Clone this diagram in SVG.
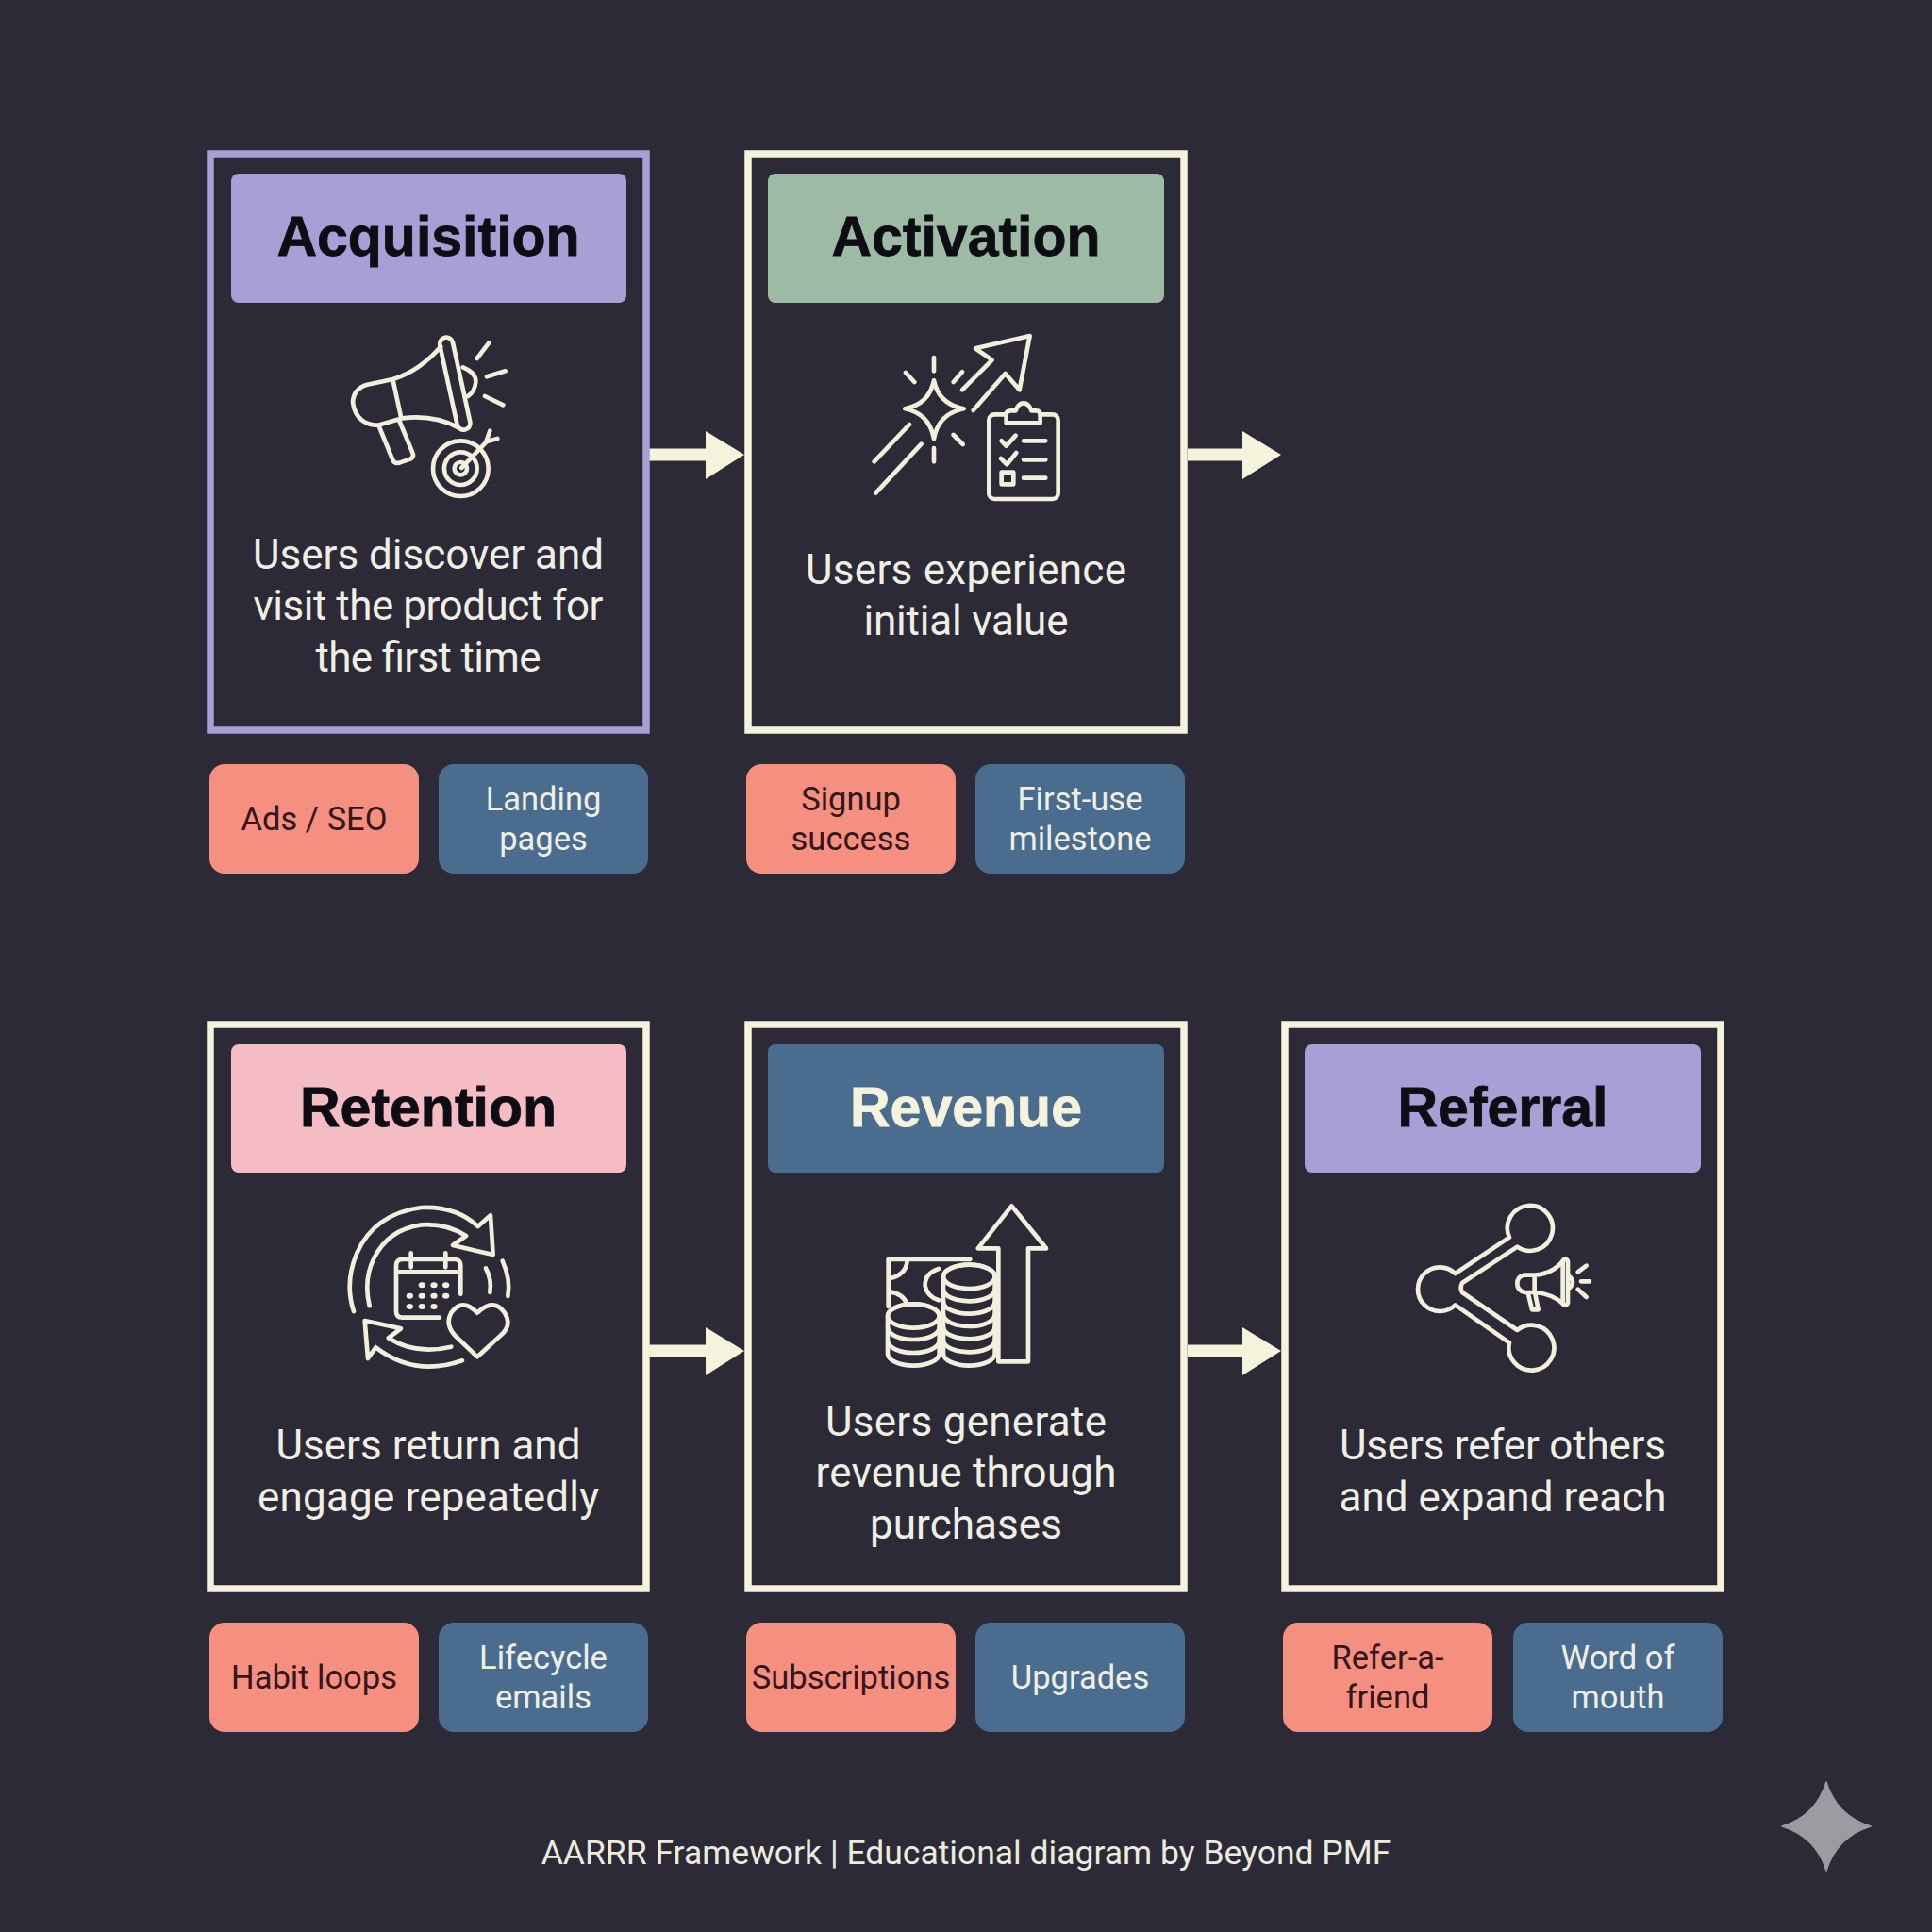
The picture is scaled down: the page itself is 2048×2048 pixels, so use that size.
<svg xmlns="http://www.w3.org/2000/svg" width="2048" height="2048" viewBox="0 0 2048 2048">
<style>
.card{fill:#2b2a36;stroke:#f5f3dc;stroke-width:7.5}
.hd{stroke:none}
.title{font:bold 59px "Liberation Sans",Arial,sans-serif;text-anchor:middle;fill:#0e0d14;stroke:#0e0d14;stroke-width:.8}
.body{font:44px Roboto,"Liberation Sans",sans-serif;text-anchor:middle;fill:#f0efe4}
.tag{font:34.5px Roboto,"Liberation Sans",sans-serif;text-anchor:middle}
.c{fill:#f58f7f}.c2{fill:#4a6d8f}
.dk{fill:#33161b}.lt{fill:#f0efe4}
.ic{fill:none;stroke:#f2f0dc;stroke-width:14;stroke-linecap:round;stroke-linejoin:round}
.ic .b{fill:#2b2a36}
.ic .d{fill:#f2f0dc;stroke:none}
.foot{font:35.5px Roboto,"Liberation Sans",sans-serif;text-anchor:middle;fill:#ecebdf}
</style>
<rect width="2048" height="2048" fill="#2b2a36"/>

<g id="connectors" fill="#f5f3dc">
<path d="M688 475.500H748V457L789 482L748 508V488.500H688Z"/>
<path d="M1259 475.500H1317V457L1358 482L1317 508V488.500H1259Z"/>
<path d="M688 1425.500H748V1407L789 1432L748 1458V1438.500H688Z"/>
<path d="M1259 1425.500H1317V1407L1358 1432L1317 1458V1438.500H1259Z"/>
</g>

<g id="acquisition">
<rect class="card" x="223" y="163" width="462" height="611" style="stroke:#a89fd6"/>
<rect class="hd" x="245" y="184" width="419" height="137" rx="8" fill="#a89fd6"/>
<text class="title" x="454" y="271">Acquisition</text>
<g class="ic" transform="translate(360 340) scale(.3333)">
<path d="M322 82Q255 160 170 186L88 203Q45 215 42 258Q48 310 90 327Q110 335 130 330L200 310Q300 298 378 340"/>
<path d="M170 190L196 310"/>
<rect x="-21" y="-150" width="42" height="300" rx="21" transform="translate(367 200) rotate(-12.3)"/>
<path d="M392 148Q435 165 433 195Q430 225 408 240"/>
<path d="M125 335L170 445Q175 455 190 452L225 440Q238 432 232 420L190 318"/>
<path d="M437 120L475 70M468 178L527 160M462 240L520 268"/>
<circle cx="385" cy="470" r="88"/><circle cx="385" cy="470" r="52"/><circle cx="385" cy="470" r="20"/>
<path d="M388 468L470 382M478 350L466 385L502 375"/>
</g>
<text class="body" x="454" y="603" textLength="372">Users discover and</text>
<text class="body" x="454" y="657" textLength="371">visit the product for</text>
<text class="body" x="454" y="712" textLength="239">the first time</text>
<rect class="c" x="222" y="810" width="222" height="116" rx="16"/>
<text class="tag dk" x="333" y="880">Ads / SEO</text>
<rect class="c2" x="465" y="810" width="222" height="116" rx="16"/>
<text class="tag lt" x="576" y="859">Landing</text>
<text class="tag lt" x="576" y="901">pages</text>
</g>

<g id="activation">
<rect class="card" x="793" y="163" width="462" height="611"/>
<rect class="hd" x="814" y="184" width="420" height="137" rx="8" fill="#9dbba4"/>
<text class="title" x="1024" y="271">Activation</text>
<g class="ic" transform="translate(880 330) scale(.3333)">
<path d="M420 250L515 155L462 118L635 78L602 250L557 198L455 315"/>
<path d="M330 220Q345 295 425 310Q345 325 330 405Q315 325 238 310Q315 295 330 220Z"/>
<path d="M330 147V190M240 195L268 225M392 225L420 193M392 393L422 423M330 435V478M140 478L252 360M145 578L290 422"/>
<rect x="505" y="328" width="220" height="269" rx="18"/>
<path class="b" d="M560 355V328Q560 316 575 316H590Q598 292 615 292Q632 292 640 316H655Q668 316 668 330V355Z"/>
<path d="M545 412L560 428L590 395M543 468L562 487L592 450M615 412H685M615 472H685M615 530H685"/>
<rect x="545" y="512" width="38" height="38"/>
</g>
<text class="body" x="1024" y="619" textLength="340">Users experience</text>
<text class="body" x="1024" y="673" textLength="217">initial value</text>
<rect class="c" x="791" y="810" width="222" height="116" rx="16"/>
<text class="tag dk" x="902" y="859">Signup</text>
<text class="tag dk" x="902" y="901">success</text>
<rect class="c2" x="1034" y="810" width="222" height="116" rx="16"/>
<text class="tag lt" x="1145" y="859">First-use</text>
<text class="tag lt" x="1145" y="901">milestone</text>
</g>

<g id="retention">
<rect class="card" x="223" y="1086" width="462" height="598"/>
<rect class="hd" x="245" y="1107" width="419" height="136" rx="8" fill="#f6bcc3"/>
<text class="title" x="454" y="1194">Retention</text>
<g class="ic" transform="translate(340 1250) scale(.3333)">
<path d="M105 420Q75 330 115 235Q170 110 320 90Q430 85 500 150L540 115L548 240L420 210L462 180Q400 140 320 145Q215 160 170 250Q135 320 155 403"/>
<path d="M175 535L150 570L140 450L255 475L215 505Q300 560 415 533M175 535Q300 630 450 577"/>
<path d="M525 283Q545 320 538 360M578 260Q605 320 595 372"/>
<path d="M378 440H260Q240 440 240 420V275Q240 255 260 255H425Q445 255 445 275V365M240 295H445M287 235V280M397 235V280"/>
<g class="d">
<ellipse cx="322" cy="337" rx="11" ry="9"/><ellipse cx="360" cy="337" rx="11" ry="9"/><ellipse cx="398" cy="337" rx="11" ry="9"/>
<ellipse cx="283" cy="371" rx="11" ry="9"/><ellipse cx="322" cy="371" rx="11" ry="9"/><ellipse cx="360" cy="371" rx="11" ry="9"/><ellipse cx="398" cy="371" rx="11" ry="9"/>
<ellipse cx="283" cy="405" rx="11" ry="9"/><ellipse cx="322" cy="405" rx="11" ry="9"/><ellipse cx="360" cy="405" rx="11" ry="9"/>
</g>
<path class="b" d="M498 565L425 495Q395 460 415 425Q450 375 498 425Q550 375 585 425Q610 465 572 497Z"/>
</g>
<text class="body" x="454" y="1547" textLength="323">Users return and</text>
<text class="body" x="454" y="1602" textLength="362">engage repeatedly</text>
<rect class="c" x="222" y="1720" width="222" height="116" rx="16"/>
<text class="tag dk" x="333" y="1790">Habit loops</text>
<rect class="c2" x="465" y="1720" width="222" height="116" rx="16"/>
<text class="tag lt" x="576" y="1769">Lifecycle</text>
<text class="tag lt" x="576" y="1811">emails</text>
</g>

<g id="revenue">
<rect class="card" x="793" y="1086" width="462" height="598"/>
<rect class="hd" x="814" y="1107" width="420" height="136" rx="8" fill="#4a6d8f"/>
<text class="title" x="1024" y="1194" style="fill:#f5f3dc;stroke:#f5f3dc">Revenue</text>
<g class="ic" transform="translate(910 1260) scale(.3333)">
<path d="M445 550V190H380L487 55L597 190H540V550Z"/>
<path d="M95 375V225H355M100 285Q150 275 155 230M100 328Q145 335 155 370M255 255Q210 270 212 310Q220 345 255 355"/>
<path class="b" d="M270 280A82 38 0 0 1 434 280V525A82 38 0 0 1 270 525Z"/>
<ellipse cx="352" cy="280" rx="82" ry="38"/>
<path d="M270 320A82 38 0 0 0 434 320M270 360A82 38 0 0 0 434 360M270 400A82 38 0 0 0 434 400M270 440A82 38 0 0 0 434 440M270 482A82 38 0 0 0 434 482"/>
<path class="b" d="M93 405A82 38 0 0 1 257 405V525A82 38 0 0 1 93 525Z"/>
<ellipse cx="175" cy="405" rx="82" ry="38"/>
<path d="M93 442A82 38 0 0 0 257 442M93 484A82 38 0 0 0 257 484"/>
</g>
<text class="body" x="1024" y="1522" textLength="298">Users generate</text>
<text class="body" x="1024" y="1576" textLength="319">revenue through</text>
<text class="body" x="1024" y="1631" textLength="204">purchases</text>
<rect class="c" x="791" y="1720" width="222" height="116" rx="16"/>
<text class="tag dk" x="902" y="1790">Subscriptions</text>
<rect class="c2" x="1034" y="1720" width="222" height="116" rx="16"/>
<text class="tag lt" x="1145" y="1790">Upgrades</text>
</g>

<g id="referral">
<rect class="card" x="1362" y="1086" width="462" height="598"/>
<rect class="hd" x="1383" y="1107" width="420" height="136" rx="8" fill="#a89fd6"/>
<text class="title" x="1593" y="1194">Referral</text>
<g class="ic" transform="translate(1480 1260) scale(.3333)">
<path d="M188 270L360 155A72 72 0 1 1 385 185L210 300Q202 315 210 330L385 450A72 72 0 1 1 360 490L188 370A70 70 0 1 1 188 270Z"/>
<path d="M440 275H405Q385 280 385 302Q385 325 410 330H440ZM440 275Q500 270 532 228M440 330Q500 335 532 368"/>
<rect x="530" y="225" width="16" height="145" rx="8"/>
<path d="M420 335L432 385H452L442 335M552 280Q570 297 552 315M578 265L605 245M588 295H615M578 320L605 345"/>
</g>
<text class="body" x="1593" y="1547" textLength="346">Users refer others</text>
<text class="body" x="1593" y="1602" textLength="347">and expand reach</text>
<rect class="c" x="1360" y="1720" width="222" height="116" rx="16"/>
<text class="tag dk" x="1471" y="1769">Refer-a-</text>
<text class="tag dk" x="1471" y="1811">friend</text>
<rect class="c2" x="1604" y="1720" width="222" height="116" rx="16"/>
<text class="tag lt" x="1715" y="1769">Word of</text>
<text class="tag lt" x="1715" y="1811">mouth</text>
</g>

<text class="foot" x="1024" y="1976">AARRR Framework | Educational diagram by Beyond PMF</text>
<path d="M1936 1889Q1947 1925 1983 1936Q1947 1947 1936 1983Q1925 1947 1889 1936Q1925 1925 1936 1889Z" fill="#9b9ba1" stroke="#9b9ba1" stroke-width="1.500" stroke-linejoin="round"/>
</svg>
